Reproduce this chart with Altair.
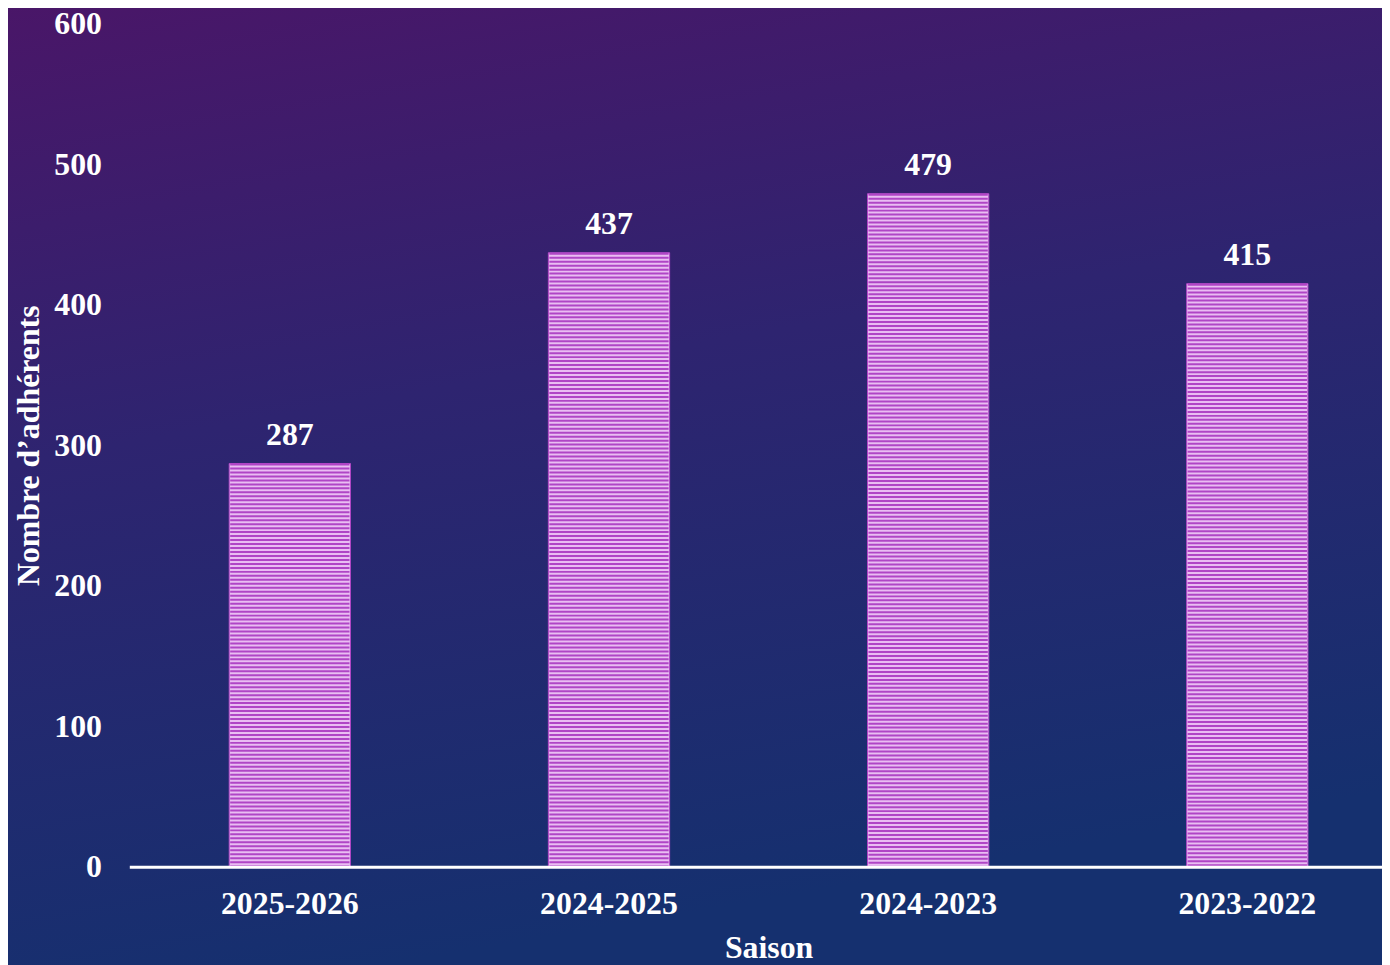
import altair as alt
import pandas as pd

seasons = ["2025-2026", "2024-2025", "2024-2023", "2023-2022"]
members = [287, 437, 479, 415]
y_ticks = [0, 100, 200, 300, 400, 500, 600]

df = pd.DataFrame({"Saison": seasons, "Adherents": members})
bg = pd.DataFrame({"k": [0]})

W, H = 1260, 848
PAD = {"left": 122, "top": 13, "right": 0, "bottom": 96}
FONT = "Liberation Serif"
FS = 32
PINK = "#e9bdf2"
MAGENTA = "#b045c6"

x_enc = alt.X(
    "Saison:N",
    sort=None,
    scale=alt.Scale(range=[0, 1286], paddingInner=0.62, paddingOuter=0.313, round=False),
    axis=alt.Axis(
        title="Saison",
        labelAngle=0,
        ticks=False,
        domainColor="white",
        domainWidth=3,
        labelPadding=22,
        titlePadding=13,
        zindex=1,
    ),
)
y_enc = alt.Y(
    "Adherents:Q",
    scale=alt.Scale(domain=[0, 600]),
    axis=alt.Axis(
        title="Nombre d’adhérents",
        values=y_ticks,
        grid=False,
        ticks=False,
        domain=False,
        labelPadding=28,
        titlePadding=8,
        zindex=1,
    ),
)

gradient = alt.Gradient(
    gradient="linear",
    stops=[
        alt.GradientStop(color="#4a1668", offset=0),
        alt.GradientStop(color="#2e2470", offset=0.45),
        alt.GradientStop(color="#15306f", offset=1),
    ],
    x1=0, y1=0, x2=0.25, y2=1,
)

background = alt.Chart(bg).mark_rect(fill=gradient).encode(
    x=alt.value(-PAD["left"] - 10),
    x2=alt.value(W + 20),
    y=alt.value(-PAD["top"] - 10),
    y2=alt.value(H + PAD["bottom"] + 10),
)

bars = alt.Chart(df).mark_bar(fill=PINK, stroke=MAGENTA, strokeWidth=1).encode(
    x=x_enc, y=y_enc
)

stripes = alt.Chart(df).mark_rule(
    color=MAGENTA, strokeWidth=120, strokeDash=[2, 2], strokeCap="butt"
).encode(
    x=alt.X("Saison:N", sort=None),
    y=alt.Y("Adherents:Q"),
    y2=alt.datum(0),
)

labels = alt.Chart(df).mark_text(
    font=FONT, fontSize=FS, fontWeight="bold", color="white",
    baseline="alphabetic", dy=-19,
).encode(
    x=alt.X("Saison:N", sort=None),
    y=alt.Y("Adherents:Q"),
    text=alt.Text("Adherents:Q"),
)

chart = alt.layer(background, bars, stripes, labels).properties(
    width=W,
    height=H,
    autosize=alt.AutoSizeParams(type="none"),
    padding=PAD,
    background="#15306f",
).configure_view(stroke=None).configure_axis(
    labelFont=FONT,
    labelFontSize=FS,
    labelFontWeight="bold",
    labelColor="white",
    titleFont=FONT,
    titleFontSize=FS,
    titleFontWeight="bold",
    titleColor="white",
)

chart.save("out.html", embed_options={"renderer": "svg", "actions": False})
